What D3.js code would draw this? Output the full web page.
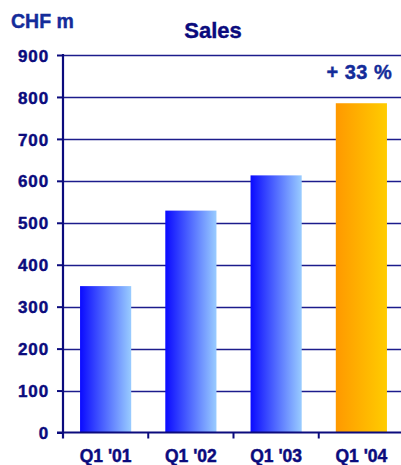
<!DOCTYPE html>
<html>
<head>
<meta charset="utf-8">
<script src="https://cdn.jsdelivr.net/npm/d3@7/dist/d3.min.js"></script>
<style>
  html, body { margin: 0; padding: 0; background: #fff; }
  svg { display: block; }
  text { font-family: "Liberation Sans", Arial, sans-serif; font-weight: bold; }
</style>
</head>
<body>
<svg id="chart" width="401" height="465"></svg>
<script>
// Quarterly sales, CHF millions
const categories = ["Q1 '01", "Q1 '02", "Q1 '03", "Q1 '04"];
const sales = [349, 529, 613, 785];
const yTicks = [0, 100, 200, 300, 400, 500, 600, 700, 800, 900];
const growthLabel = "+ 33 %";
const highlightIndex = 3;

const navy = "#0b0b7d";
const blueText = "#142c9a";

const svg = d3.select("#chart");
const plotLeft = 63, plotRight = 404, plotTop = 55, plotBottom = 432.5;

const x = d3.scaleBand().domain(categories).range([plotLeft, plotRight])
  .paddingInner(0.4).paddingOuter(0.2);
const y = d3.scaleLinear().domain([0, 900]).range([plotBottom, plotTop]);

// gradients for the bars
const defs = svg.append("defs");
function grad(id, c0, c1) {
  const g = defs.append("linearGradient").attr("id", id)
    .attr("x1", "0%").attr("x2", "100%").attr("y1", "0%").attr("y2", "0%");
  g.append("stop").attr("offset", "0%").attr("stop-color", c0);
  g.append("stop").attr("offset", "100%").attr("stop-color", c1);
}
grad("gBlue", "#0a0aff", "#99ccff");
grad("gOrange", "#ff9900", "#ffcc00");

// horizontal gridlines
svg.append("g").selectAll("line").data(yTicks.filter(d => d > 0)).join("line")
  .attr("x1", plotLeft).attr("x2", 401)
  .attr("y1", d => Math.round(y(d)) + 0.5).attr("y2", d => Math.round(y(d)) + 0.5)
  .attr("stroke", "#1c1c8c").attr("stroke-width", 1.5);

// bars
svg.append("g").selectAll("rect").data(sales).join("rect")
  .attr("x", (d, i) => x(categories[i]))
  .attr("width", x.bandwidth())
  .attr("y", d => y(d))
  .attr("height", d => plotBottom - y(d))
  .attr("fill", (d, i) => i === highlightIndex ? "url(#gOrange)" : "url(#gBlue)");

// y axis
const yAxis = svg.append("g").attr("transform", `translate(${plotLeft},0)`)
  .call(d3.axisLeft(y).tickValues(yTicks).tickSize(6).tickPadding(8).tickFormat(d3.format("d")));
yAxis.select(".domain").remove();
yAxis.selectAll(".tick line").attr("stroke", navy).attr("stroke-width", 2);
yAxis.selectAll(".tick text").attr("fill", navy)
  .attr("stroke", navy).attr("stroke-width", 0.45)
  .style("font-size", "17px").style("font-family", "'Liberation Sans', Arial, sans-serif")
  .style("font-weight", "bold").style("letter-spacing", "0.9px").attr("dy", "0.36em");
svg.append("line").attr("x1", plotLeft).attr("x2", plotLeft).attr("y1", plotTop - 1).attr("y2", plotBottom + 6)
  .attr("stroke", navy).attr("stroke-width", 2.2);

// x axis
svg.append("line").attr("x1", plotLeft - 6).attr("x2", 401).attr("y1", plotBottom).attr("y2", plotBottom)
  .attr("stroke", navy).attr("stroke-width", 2.2);
const edges = d3.range(1, categories.length).map(i => plotLeft + i * x.step());
svg.append("g").selectAll("line").data(edges).join("line")
  .attr("x1", d => d).attr("x2", d => d).attr("y1", plotBottom).attr("y2", plotBottom + 6)
  .attr("stroke", navy).attr("stroke-width", 2);

const xAxis = svg.append("g").attr("transform", `translate(0,${plotBottom})`)
  .call(d3.axisBottom(x).tickSize(0).tickPadding(0));
xAxis.select(".domain").remove();
xAxis.selectAll(".tick text").attr("fill", navy).attr("y", 29).attr("dy", 0)
  .attr("stroke", navy).attr("stroke-width", 0.45)
  .style("font-size", "17.5px").style("font-family", "'Liberation Sans', Arial, sans-serif")
  .style("font-weight", "bold");

// titles
svg.append("text").attr("x", 213).attr("y", 38).attr("text-anchor", "middle")
  .attr("fill", navy).attr("stroke", navy).attr("stroke-width", 0.4)
  .style("font-size", "22px").text("Sales");
svg.append("text").attr("x", 11).attr("y", 28)
  .attr("fill", blueText).attr("stroke", blueText).attr("stroke-width", 0.4)
  .style("font-size", "19.5px").text("CHF m");
svg.append("text")
  .attr("x", x(categories[highlightIndex]) + x.bandwidth() / 2 - 2).attr("y", 79)
  .attr("text-anchor", "middle").attr("fill", blueText)
  .attr("stroke", blueText).attr("stroke-width", 0.4)
  .style("font-size", "20px").style("letter-spacing", "0.5px")
  .text(growthLabel);
</script>
</body>
</html>
